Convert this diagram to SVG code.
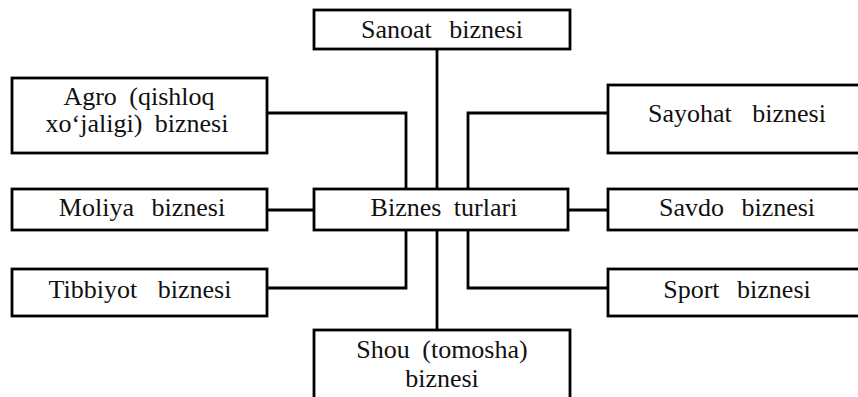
<svg xmlns="http://www.w3.org/2000/svg" width="858" height="397" viewBox="0 0 858 397">
<style>
.box{fill:#fff;stroke:#000;stroke-width:2.8}
.ln{fill:none;stroke:#000;stroke-width:2.8;stroke-linejoin:miter}
.t{font-family:'Liberation Serif','Times New Roman',serif;font-size:26px;fill:#111;text-anchor:middle;word-spacing:6px}
.w{word-spacing:11px}
.ww{word-spacing:14px}
</style>
<rect width="858" height="397" fill="#fff"/>
<g id="connectors">
<path class="ln" d="M437 49V189"/>
<path class="ln" d="M437 230V330"/>
<path class="ln" d="M267 113H406V189"/>
<path class="ln" d="M608 113H468V189"/>
<path class="ln" d="M267 210H314"/>
<path class="ln" d="M568 210H608"/>
<path class="ln" d="M406 230V288H267"/>
<path class="ln" d="M468 230V288H608"/>
</g>
<g id="sanoat"><rect class="box" x="314" y="10" width="256" height="39"/><text class="t w" x="442" y="38">Sanoat biznesi</text></g>
<g id="agro"><rect class="box" x="12" y="78" width="255" height="75"/><text class="t" x="139" y="105">Agro (qishloq</text><text class="t" x="137" y="132">xo‘jaligi) biznesi</text></g>
<g id="moliya"><rect class="box" x="12" y="189" width="255" height="41"/><text class="t w" x="142" y="216">Moliya biznesi</text></g>
<g id="tibbiyot"><rect class="box" x="12" y="269" width="255" height="47"/><text class="t ww" x="140" y="298">Tibbiyot biznesi</text></g>
<g id="biznes"><rect class="box" x="314" y="189" width="254" height="41"/><text class="t" x="444" y="216">Biznes turlari</text></g>
<g id="sayohat"><rect class="box" x="608" y="85" width="257" height="68"/><text class="t ww" x="737" y="122">Sayohat biznesi</text></g>
<g id="savdo"><rect class="box" x="608" y="189" width="257" height="41"/><text class="t w" x="737" y="216">Savdo biznesi</text></g>
<g id="sport"><rect class="box" x="608" y="269" width="257" height="47"/><text class="t w" x="737" y="298">Sport biznesi</text></g>
<g id="shou"><rect class="box" x="314" y="330" width="256" height="80"/><text class="t" x="442" y="358">Shou (tomosha)</text><text class="t" x="442" y="387">biznesi</text></g>
</svg>
